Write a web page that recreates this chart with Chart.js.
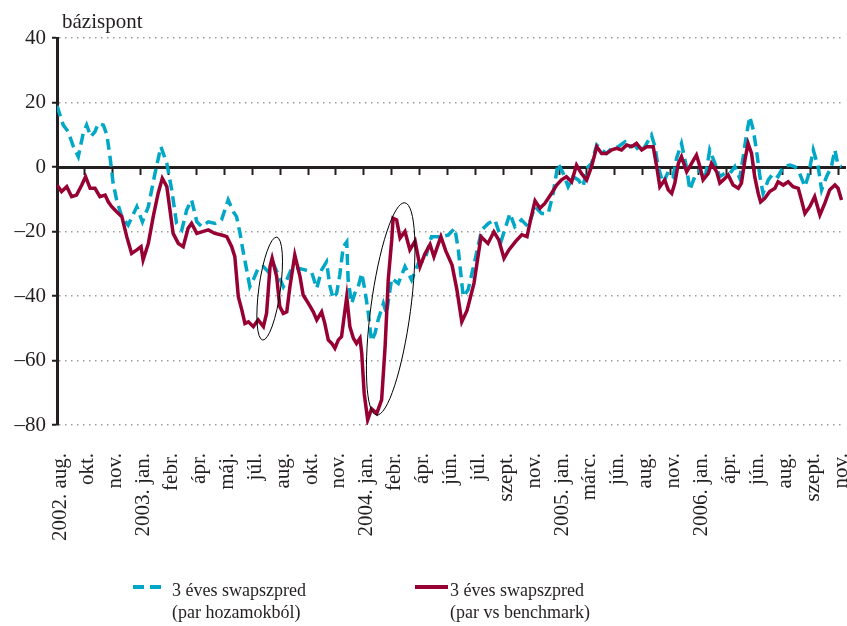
<!DOCTYPE html>
<html lang="hu">
<head>
<meta charset="utf-8">
<title>3 éves swapszpred</title>
<script src="https://cdn.jsdelivr.net/npm/chart.js@4.4.1/dist/chart.umd.min.js"></script>
<style>
  html, body { margin: 0; padding: 0; background: #fff; }
  #wrap { width: 847px; height: 626px; position: relative; }
</style>
</head>
<body>
<div id="wrap"><canvas id="chart"></canvas></div>
<script>
// === DATEN ===
// x = Wochen seit 2002. aug.; alle 8 Wochen eine Achsenbeschriftung
const xLabels = ['2002. aug.', 'okt.', 'nov.', '2003. jan.', 'febr.', 'ápr.', 'máj.', 'júl.', 'aug.', 'okt.', 'nov.',
  '2004. jan.', 'febr.', 'ápr.', 'jún.', 'júl.', 'szept.', 'nov.', '2005. jan.', 'márc.', 'jún.', 'aug.', 'nov.',
  '2006. jan.', 'ápr.', 'jún.', 'aug.', 'szept.', 'nov.'];
const yTicks = [40, 20, 0, -20, -40, -60, -80];

// 3 éves swapszpred (par hozamokból) – blau, gestrichelt
const blueWeeks = [0, 1.8, 3.2, 4.7, 6.1, 7.5, 8.5, 9.7, 10.9, 11.8,
  13.3, 14.3, 15.2, 16.1, 17.1, 18.6, 20.4, 22.9, 24.5, 26.2,
  28.1, 29.8, 31.5, 32.9, 34.3, 35.8, 37.2, 38.6, 40.1, 41.5,
  43.4, 45.3, 47.2, 49.1, 50.6, 51.5, 52.5, 53.4, 54.4, 55.3,
  56.3, 57.7, 59.2, 60.6, 62.0, 63.5, 64.9, 65.9, 67.3, 69.2,
  71.1, 73.0, 74.5, 75.9, 77.3, 78.3, 79.2, 80.2, 81.1, 82.1,
  83.1, 83.5, 84.5, 85.4, 86.4, 87.4, 88.3, 89.3, 90.2, 91.2,
  92.1, 93.6, 94.5, 96.0, 97.9, 99.8, 101.7, 103.6, 105.5, 107.4,
  110.3, 112.2, 114.1, 115.1, 116.5, 117.9, 119.9, 121.8, 123.7, 125.6,
  127.5, 129.9, 131.3, 133.2, 135.1, 137.1, 139.0, 140.9, 142.3, 143.7,
  145.2, 146.6, 148.0, 149.5, 150.9, 151.9, 153.3, 154.8, 156.2, 157.6,
  159.1, 161.0, 162.9, 164.3, 165.7, 167.2, 168.6, 170.5, 171.5, 172.4,
  173.8, 175.3, 176.7, 177.7, 179.1, 180.6, 181.5, 182.9, 184.4, 185.8,
  187.2, 188.7, 190.1, 191.5, 193.0, 194.4, 195.8, 196.8, 197.8, 198.7,
  199.7, 200.6, 201.6, 202.5, 204.0, 205.4, 206.8, 208.3, 210.2, 211.6,
  213.0, 214.5, 215.4, 216.9, 218.3, 219.3, 220.7, 222.1, 223.1, 224.0,
  225.0];
const blueValues = [19, 13, 11, 6.3, 3.2, 10.4, 13, 9.4, 11, 13.5,
  13, 10, 3.2, -5, -10.2, -15.4, -18, -12.3, -17, -12.3,
  -2, 6.3, 1.1, -7.1, -17.5, -19.5, -13.3, -10.2, -17, -18.5,
  -17, -17.5, -16.4, -10.2, -13.9, -15.4, -20.6, -26.3, -31.9, -37.1,
  -35, -31.4, -30.9, -32.5, -29.9, -33.5, -37.1, -35, -31.4, -31.4,
  -31.9, -32.5, -37.6, -31.9, -29.4, -37.1, -40.7, -39.2, -33.5, -24.7,
  -23.2, -35, -42.3, -39.2, -37.1, -33, -38.1, -45.4, -54, -51.6,
  -47.4, -42.3, -45.4, -34.5, -36.1, -30.9, -35, -29.9, -28.8, -21.6,
  -21.6, -21.1, -19, -25.7, -40.2, -38.1, -28.8, -19.5, -17.5, -16.4,
  -22.6, -14.4, -18.5, -16.4, -18.5, -12.3, -14.4, -14.4, -8.2, 1.1,
  -2, -6.1, -3, -4, -6.1, -0.4, 1.1, 6.8, 5.3, 4.2,
  5.8, 6.3, 7.8, 6.3, 6.8, 4.7, 6.3, 9.9, 6.3, 0.1,
  -5, -1.5, -3, 2.7, 7.3, -0.4, -7.1, -3, -0.9, -4,
  5.3, 1.1, -3, -2, -2, 0.1, -3.5, 3.2, 10.4, 15.6,
  11.5, 5.3, -3, -8.2, -4, -2, -3, 0.1, 0.6, 0.1,
  -2, -6.1, -3, 5.3, 0.1, -7.1, -3, 0.1, 5.3, 0.6,
  0.1];

// 3 éves swapszpred (par vs benchmark) – weinrot, durchgezogen
const redWeeks = [0, 1.3, 2.8, 4.2, 5.6, 7.1, 8.2, 9.5, 10.9, 12.3,
  13.8, 14.7, 15.7, 17.1, 18.6, 20.0, 21.4, 22.9, 24.1, 24.7,
  26.2, 27.6, 29.0, 30.2, 31.5, 32.4, 33.3, 34.8, 36.2, 37.6,
  38.6, 40.1, 41.5, 43.4, 45.3, 47.2, 48.7, 50.1, 51.0, 52.0,
  53.0, 53.9, 54.9, 56.3, 57.7, 59.2, 60.1, 61.1, 61.7, 63.0,
  63.9, 64.9, 65.9, 66.8, 68.2, 69.7, 70.6, 72.1, 73.5, 74.5,
  75.9, 76.8, 77.8, 78.8, 79.7, 80.7, 81.6, 82.6, 83.1, 84.0,
  85.0, 85.9, 86.9, 87.4, 88.1, 89.1, 90.2, 91.7, 93.1, 94.1,
  95.0, 96.0, 96.4, 97.4, 98.4, 99.8, 101.2, 102.7, 104.1, 105.5,
  107.0, 108.1, 110.1, 111.5, 113.3, 114.7, 116.1, 117.6, 119.6, 121.6,
  123.6, 125.3, 126.7, 128.2, 129.6, 131.6, 133.3, 134.8, 135.9, 137.1,
  138.5, 139.9, 141.8, 143.3, 144.7, 146.1, 147.6, 149.0, 150.4, 151.9,
  153.3, 154.8, 156.2, 157.6, 159.1, 160.5, 161.9, 163.4, 164.8, 166.2,
  167.7, 169.1, 171.0, 172.0, 172.9, 174.3, 175.3, 176.3, 177.2, 178.2,
  179.1, 180.6, 182.0, 183.4, 184.4, 185.3, 186.8, 187.7, 189.2, 190.1,
  191.1, 192.5, 193.9, 195.4, 196.3, 197.3, 198.2, 199.2, 200.1, 201.1,
  201.8, 203.0, 204.4, 205.9, 206.8, 208.3, 209.7, 211.1, 212.6, 213.5,
  214.5, 215.9, 217.3, 218.8, 220.2, 221.6, 223.1, 224.0, 225.0];
const redValues = [-5.6, -7.6, -6.1, -9.2, -8.7, -5.6, -3, -6.6, -6.6, -9.2,
  -8.7, -10.8, -12.3, -13.9, -15.4, -21.6, -26.8, -25.7, -24.7, -28.8,
  -23.7, -15.4, -8.2, -3.5, -6.1, -13.3, -20.6, -23.7, -24.7, -19,
  -17.5, -20.6, -20.1, -19.5, -20.6, -21.1, -21.6, -24.7, -27.8, -40.2,
  -44.3, -48.5, -48, -49.5, -47.4, -49.5, -45.4, -30.9, -28.3, -34,
  -43.3, -45.4, -44.9, -37.1, -27.3, -34, -39.7, -42.3, -44.9, -47.4,
  -44.9, -48.5, -53.6, -54.7, -56.2, -53.6, -52.6, -44.3, -40.2, -49.5,
  -53.1, -54.7, -53.1, -57.8, -70.2, -78.4, -75, -76.4, -72.2, -55.7,
  -35, -22.6, -15.9, -16.4, -22, -20, -25.7, -23, -30.9, -27,
  -24, -27.8, -21.6, -26, -30.4, -38.1, -48, -44.5, -36, -21.6,
  -23.7, -20.1, -22.6, -28.3, -25.7, -23, -21, -21.6, -16, -10.5,
  -12.8, -11.3, -8.2, -5.6, -4, -3, -4.6, 0.6, -2, -4,
  0.1, 6.3, 4.2, 4.2, 5.3, 5.8, 5.3, 6.8, 6.3, 7.3,
  5.3, 6.3, 6.3, 0.1, -6.1, -4, -7.1, -8.2, -5, 1.1,
  3.2, -1.5, 1.1, 3.7, 0.1, -4, -2, 1.1, -1.5, -5,
  -4, -2.5, -5.6, -6.6, -5, 2.2, 7.3, 4.2, -3, -8.2,
  -10.8, -9.7, -7.6, -6.6, -4.6, -5.6, -4.6, -6.1, -6.6, -10.2,
  -14.4, -12.3, -9.2, -14.9, -11.3, -7.1, -5.6, -6.6, -10.2];

const seriesLabels = [
  ['3 éves swapszpred', '(par hozamokból)'],
  ['3 éves swapszpred', '(par vs benchmark)']
];

const toXY = (xs, ys) => xs.map((x, i) => ({ x: x, y: ys[i] }));

const TEXT = '#231f20';
const FONT = 'Liberation Serif, Times New Roman, serif';

// === EXTRAS: Einheit, Ellipsen, zweizeilige Legende ===
const extrasPlugin = {
  id: 'extras',
  afterDatasetsDraw(chart, args, opts) {
    const { ctx, scales: { x, y } } = chart;
    ctx.save();
    ctx.strokeStyle = '#000';
    ctx.lineWidth = 1;
    opts.ellipses.forEach(e => {
      const cx = x.getPixelForValue(e.x);
      const cy = y.getPixelForValue(e.y);
      const rx = Math.abs(x.getPixelForValue(e.x + e.rx) - cx);
      const ry = Math.abs(y.getPixelForValue(e.y + e.ry) - cy);
      ctx.beginPath();
      ctx.ellipse(cx, cy, rx, ry, e.rot * Math.PI / 180, 0, 2 * Math.PI);
      ctx.stroke();
    });
    ctx.restore();
  },
  afterDraw(chart, args, opts) {
    const { ctx, chartArea } = chart;
    ctx.save();
    ctx.fillStyle = TEXT;
    ctx.textBaseline = 'alphabetic';
    ctx.font = '21px ' + FONT;
    ctx.fillText(opts.unit, chartArea.left + 5, chartArea.top - 10);

    // Legende
    ctx.font = '18px ' + FONT;
    chart.data.datasets.forEach((ds, i) => {
      const lx = opts.legendX[i];
      const ly = chart.height - 39;
      ctx.beginPath();
      ctx.strokeStyle = ds.borderColor;
      ctx.lineWidth = 4;
      ctx.setLineDash(ds.borderDash || []);
      ctx.moveTo(lx, ly);
      ctx.lineTo(lx + opts.swatchW[i], ly);
      ctx.stroke();
      ctx.setLineDash([]);
      const tx = lx + opts.swatchW[i] + opts.gap[i];
      ctx.fillText(seriesLabels[i][0], tx, chart.height - 30);
      ctx.fillText(seriesLabels[i][1], tx, chart.height - 8);
    });
    ctx.restore();
  }
};

new Chart(document.getElementById('chart'), {
  type: 'line',
  data: {
    datasets: [
      {
        label: seriesLabels[0].join(' '),
        data: toXY(blueWeeks, blueValues),
        borderColor: '#00a7c7',
        borderWidth: 3.5,
        borderDash: [11, 6],
        pointRadius: 0,
        tension: 0,
        xAxisID: 'x',
        yAxisID: 'y',
        order: 2
      },
      {
        label: seriesLabels[1].join(' '),
        data: toXY(redWeeks, redValues),
        borderColor: '#960033',
        borderWidth: 3.5,
        pointRadius: 0,
        tension: 0,
        xAxisID: 'x',
        yAxisID: 'y',
        order: 1
      }
    ]
  },
  options: {
    responsive: true,
    maintainAspectRatio: false,
    animation: false,
    layout: { padding: { left: 0, right: 2, top: 38, bottom: 78 } },
    plugins: {
      legend: { display: false },
      tooltip: { enabled: false },
      extras: {
        unit: 'bázispont',
        legendX: [133, 415],
        swatchW: [30, 33],
        gap: [9, 2],
        ellipses: [
          { x: 61.0, y: -37.7, rx: 3.1, ry: 16.1, rot: 7.8 },
          { x: 95.7, y: -44.0, rx: 5.7, ry: 33.2, rot: 7.6 }
        ]
      }
    },
    scales: {
      // Nulllinie mit Teilstrichen
      x: {
        type: 'linear',
        position: { y: 0 },
        min: 0,
        max: 226,
        ticks: { display: false, stepSize: 8, includeBounds: false },
        grid: { drawOnChartArea: false, drawTicks: true, tickLength: 6, tickWidth: 2, tickColor: TEXT },
        border: { color: TEXT, width: 3 }
      },
      // Beschriftung unten (Rand-Padding der gedrehten Labels ignorieren)
      x2: {
        type: 'linear',
        position: 'bottom',
        min: 0,
        max: 226,
        afterFit: s => { s.height = 123; s.paddingLeft = 0; s.paddingRight = 0; },
        ticks: {
          stepSize: 8,
          includeBounds: false,
          autoSkip: false,
          maxRotation: 90,
          minRotation: 90,
          padding: 20,
          labelOffset: 3,
          color: TEXT,
          font: { family: FONT, size: 21 },
          callback: v => (v % 8 === 0 ? xLabels[v / 8] : '')
        },
        grid: { display: false },
        border: { display: false }
      },
      y: {
        type: 'linear',
        position: 'left',
        min: -80,
        max: 40,
        afterFit: s => { s.width = 57; },
        afterBuildTicks: s => { s.ticks = yTicks.map(v => ({ value: v })); },
        ticks: {
          padding: 6,
          color: TEXT,
          font: { family: FONT, size: 21 },
          callback: v => (v < 0 ? '–' + Math.abs(v) : String(v))
        },
        grid: {
          color: c => (c.tick && c.tick.value === 0 ? 'rgba(0,0,0,0)' : '#9c9c9c'),
          lineWidth: 1.5,
          drawTicks: true,
          tickLength: 5,
          tickWidth: 2,
          tickColor: TEXT,
          tickBorderDash: []
        },
        border: { color: TEXT, width: 3, dash: [1.5, 4.5] }
      }
    }
  },
  plugins: [extrasPlugin]
});
</script>
</body>
</html>
